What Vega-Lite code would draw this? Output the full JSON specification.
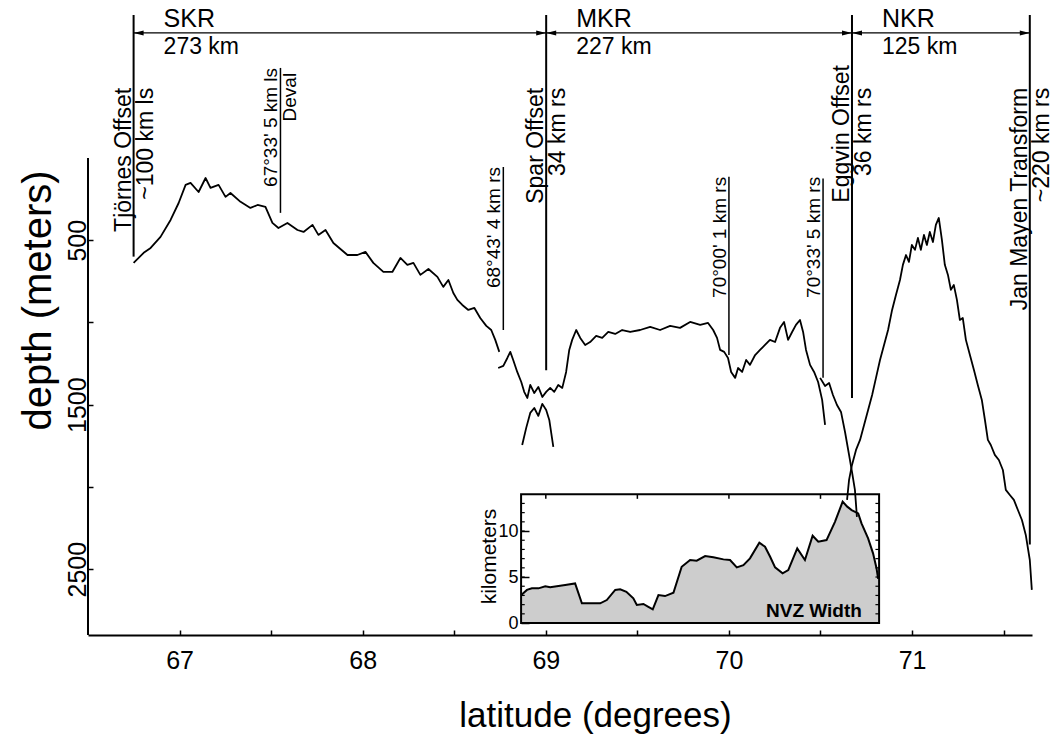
{
  "$schema": "https://vega.github.io/schema/vega-lite/v6.json",
  "width": 944,
  "height": 635,
  "autosize": {"type": "none"},
  "padding": {"left": 88, "top": 0, "right": 21, "bottom": 101},
  "background": "white",
  "config": {
    "font": "Liberation Sans",
    "view": {"stroke": null},
    "axis": {"domainColor": "black", "tickColor": "black", "labelColor": "black", "titleColor": "black", "titleFontWeight": "normal", "grid": false}
  },
  "datasets": {
    "profile": [
      {"seg":"s1","lat":66.749,"depth":638},{"seg":"s1","lat":66.804,"depth":577},{"seg":"s1","lat":66.842,"depth":547},{"seg":"s1","lat":66.896,"depth":480},{"seg":"s1","lat":66.951,"depth":377},{"seg":"s1","lat":66.995,"depth":274},{"seg":"s1","lat":67.033,"depth":164},{"seg":"s1","lat":67.06,"depth":152},{"seg":"s1","lat":67.104,"depth":207},{"seg":"s1","lat":67.142,"depth":122},{"seg":"s1","lat":67.169,"depth":182},{"seg":"s1","lat":67.213,"depth":164},{"seg":"s1","lat":67.251,"depth":237},{"seg":"s1","lat":67.278,"depth":213},{"seg":"s1","lat":67.333,"depth":267},{"seg":"s1","lat":67.387,"depth":304},{"seg":"s1","lat":67.426,"depth":286},{"seg":"s1","lat":67.469,"depth":298},{"seg":"s1","lat":67.507,"depth":395},{"seg":"s1","lat":67.54,"depth":426},{"seg":"s1","lat":67.589,"depth":395},{"seg":"s1","lat":67.644,"depth":438},{"seg":"s1","lat":67.677,"depth":450},{"seg":"s1","lat":67.726,"depth":407},{"seg":"s1","lat":67.758,"depth":468},{"seg":"s1","lat":67.797,"depth":438},{"seg":"s1","lat":67.84,"depth":517},{"seg":"s1","lat":67.917,"depth":590},{"seg":"s1","lat":67.971,"depth":590},{"seg":"s1","lat":68.015,"depth":571},{"seg":"s1","lat":68.058,"depth":638},{"seg":"s1","lat":68.113,"depth":693},{"seg":"s1","lat":68.162,"depth":693},{"seg":"s1","lat":68.206,"depth":608},{"seg":"s1","lat":68.244,"depth":650},{"seg":"s1","lat":68.277,"depth":638},{"seg":"s1","lat":68.315,"depth":711},{"seg":"s1","lat":68.359,"depth":675},{"seg":"s1","lat":68.408,"depth":723},{"seg":"s1","lat":68.44,"depth":784},{"seg":"s1","lat":68.468,"depth":742},{"seg":"s1","lat":68.495,"depth":821},{"seg":"s1","lat":68.517,"depth":863},{"seg":"s1","lat":68.544,"depth":894},{"seg":"s1","lat":68.577,"depth":924},{"seg":"s1","lat":68.61,"depth":912},{"seg":"s1","lat":68.642,"depth":973},{"seg":"s1","lat":68.675,"depth":1021},{"seg":"s1","lat":68.702,"depth":1046},{"seg":"s1","lat":68.724,"depth":1106},{"seg":"s1","lat":68.746,"depth":1179},
      {"seg":"s2","lat":68.74,"depth":1277},{"seg":"s2","lat":68.768,"depth":1264},{"seg":"s2","lat":68.79,"depth":1216},{"seg":"s2","lat":68.806,"depth":1179},{"seg":"s2","lat":68.822,"depth":1228},{"seg":"s2","lat":68.844,"depth":1301},{"seg":"s2","lat":68.866,"depth":1362},{"seg":"s2","lat":68.882,"depth":1422},{"seg":"s2","lat":68.899,"depth":1459},{"seg":"s2","lat":68.915,"depth":1380},{"seg":"s2","lat":68.937,"depth":1429},{"seg":"s2","lat":68.959,"depth":1392},{"seg":"s2","lat":68.981,"depth":1453},{"seg":"s2","lat":69.002,"depth":1422},{"seg":"s2","lat":69.024,"depth":1398},{"seg":"s2","lat":69.046,"depth":1422},{"seg":"s2","lat":69.068,"depth":1380},{"seg":"s2","lat":69.09,"depth":1398},{"seg":"s2","lat":69.111,"depth":1301},{"seg":"s2","lat":69.128,"depth":1167},{"seg":"s2","lat":69.144,"depth":1106},{"seg":"s2","lat":69.166,"depth":1046},{"seg":"s2","lat":69.188,"depth":1094},{"seg":"s2","lat":69.215,"depth":1137},{"seg":"s2","lat":69.242,"depth":1119},{"seg":"s2","lat":69.275,"depth":1082},{"seg":"s2","lat":69.308,"depth":1094},{"seg":"s2","lat":69.341,"depth":1058},{"seg":"s2","lat":69.379,"depth":1070},{"seg":"s2","lat":69.417,"depth":1046},{"seg":"s2","lat":69.461,"depth":1058},{"seg":"s2","lat":69.515,"depth":1046},{"seg":"s2","lat":69.57,"depth":1027},{"seg":"s2","lat":69.624,"depth":1046},{"seg":"s2","lat":69.679,"depth":1021},{"seg":"s2","lat":69.733,"depth":1033},{"seg":"s2","lat":69.788,"depth":997},{"seg":"s2","lat":69.843,"depth":1015},{"seg":"s2","lat":69.886,"depth":1003},{"seg":"s2","lat":69.914,"depth":1046},{"seg":"s2","lat":69.935,"depth":1094},{"seg":"s2","lat":69.952,"depth":1167},{"seg":"s2","lat":69.974,"depth":1179},{"seg":"s2","lat":69.995,"depth":1216},{"seg":"s2","lat":70.012,"depth":1301},{"seg":"s2","lat":70.034,"depth":1337},{"seg":"s2","lat":70.05,"depth":1277},{"seg":"s2","lat":70.072,"depth":1301},{"seg":"s2","lat":70.094,"depth":1228},{"seg":"s2","lat":70.115,"depth":1258},{"seg":"s2","lat":70.143,"depth":1198},{"seg":"s2","lat":70.17,"depth":1167},{"seg":"s2","lat":70.197,"depth":1137},{"seg":"s2","lat":70.224,"depth":1106},{"seg":"s2","lat":70.252,"depth":1119},{"seg":"s2","lat":70.279,"depth":1033},{"seg":"s2","lat":70.301,"depth":997},{"seg":"s2","lat":70.323,"depth":1106},{"seg":"s2","lat":70.345,"depth":1058},{"seg":"s2","lat":70.366,"depth":1015},{"seg":"s2","lat":70.388,"depth":985},{"seg":"s2","lat":70.405,"depth":1058},{"seg":"s2","lat":70.421,"depth":1167},{"seg":"s2","lat":70.443,"depth":1258},{"seg":"s2","lat":70.465,"depth":1301},{"seg":"s2","lat":70.487,"depth":1362},{"seg":"s2","lat":70.509,"depth":1471},{"seg":"s2","lat":70.525,"depth":1623},
      {"seg":"s3","lat":68.871,"depth":1745},{"seg":"s3","lat":68.893,"depth":1641},{"seg":"s3","lat":68.915,"depth":1550},{"seg":"s3","lat":68.937,"depth":1520},{"seg":"s3","lat":68.959,"depth":1568},{"seg":"s3","lat":68.981,"depth":1495},{"seg":"s3","lat":69.002,"depth":1532},{"seg":"s3","lat":69.019,"depth":1593},{"seg":"s3","lat":69.041,"depth":1757},
      {"seg":"s4","lat":70.498,"depth":1337},{"seg":"s4","lat":70.525,"depth":1386},{"seg":"s4","lat":70.547,"depth":1368},{"seg":"s4","lat":70.568,"depth":1441},{"seg":"s4","lat":70.59,"depth":1502},{"seg":"s4","lat":70.612,"depth":1544},{"seg":"s4","lat":70.634,"depth":1666},{"seg":"s4","lat":70.656,"depth":1805},{"seg":"s4","lat":70.672,"depth":1909},{"seg":"s4","lat":70.688,"depth":2018},{"seg":"s4","lat":70.699,"depth":2182},
      {"seg":"s5","lat":70.645,"depth":2079},{"seg":"s5","lat":70.656,"depth":1957},{"seg":"s5","lat":70.672,"depth":1866},{"seg":"s5","lat":70.694,"depth":1775},{"seg":"s5","lat":70.716,"depth":1714},{"seg":"s5","lat":70.738,"depth":1623},{"seg":"s5","lat":70.76,"depth":1532},{"seg":"s5","lat":70.782,"depth":1441},{"seg":"s5","lat":70.803,"depth":1337},{"seg":"s5","lat":70.825,"depth":1228},{"seg":"s5","lat":70.847,"depth":1137},{"seg":"s5","lat":70.869,"depth":1046},{"seg":"s5","lat":70.891,"depth":924},{"seg":"s5","lat":70.912,"depth":833},{"seg":"s5","lat":70.934,"depth":742},{"seg":"s5","lat":70.95,"depth":650},{"seg":"s5","lat":70.967,"depth":590},{"seg":"s5","lat":70.983,"depth":632},{"seg":"s5","lat":70.999,"depth":529},{"seg":"s5","lat":71.016,"depth":559},{"seg":"s5","lat":71.032,"depth":486},{"seg":"s5","lat":71.048,"depth":559},{"seg":"s5","lat":71.065,"depth":468},{"seg":"s5","lat":71.081,"depth":529},{"seg":"s5","lat":71.097,"depth":450},{"seg":"s5","lat":71.114,"depth":511},{"seg":"s5","lat":71.13,"depth":407},{"seg":"s5","lat":71.146,"depth":365},{"seg":"s5","lat":71.163,"depth":498},{"seg":"s5","lat":71.179,"depth":650},{"seg":"s5","lat":71.196,"depth":711},{"seg":"s5","lat":71.212,"depth":802},{"seg":"s5","lat":71.228,"depth":772},{"seg":"s5","lat":71.245,"depth":863},{"seg":"s5","lat":71.261,"depth":985},{"seg":"s5","lat":71.277,"depth":973},{"seg":"s5","lat":71.294,"depth":1106},{"seg":"s5","lat":71.316,"depth":1198},{"seg":"s5","lat":71.338,"depth":1289},{"seg":"s5","lat":71.359,"depth":1380},{"seg":"s5","lat":71.381,"depth":1471},{"seg":"s5","lat":71.398,"depth":1593},{"seg":"s5","lat":71.414,"depth":1714},{"seg":"s5","lat":71.43,"depth":1745},{"seg":"s5","lat":71.452,"depth":1805},{"seg":"s5","lat":71.474,"depth":1836},{"seg":"s5","lat":71.496,"depth":1897},{"seg":"s5","lat":71.512,"depth":2018},{"seg":"s5","lat":71.534,"depth":2049},{"seg":"s5","lat":71.556,"depth":2079},{"seg":"s5","lat":71.578,"depth":2140},{"seg":"s5","lat":71.6,"depth":2201},{"seg":"s5","lat":71.621,"depth":2292},{"seg":"s5","lat":71.643,"depth":2444},{"seg":"s5","lat":71.654,"depth":2626}
    ],
    "nvz": [
      {"lat":68.866,"km":3.04},{"lat":68.897,"km":3.6},{"lat":68.924,"km":3.77},{"lat":68.96,"km":3.77},{"lat":68.997,"km":4.0},{"lat":69.024,"km":3.88},{"lat":69.06,"km":4.0},{"lat":69.106,"km":4.13},{"lat":69.16,"km":4.3},{"lat":69.197,"km":2.14},{"lat":69.224,"km":2.14},{"lat":69.297,"km":2.14},{"lat":69.333,"km":2.5},{"lat":69.379,"km":3.6},{"lat":69.406,"km":3.66},{"lat":69.44,"km":3.4},{"lat":69.478,"km":2.68},{"lat":69.497,"km":1.96},{"lat":69.533,"km":2.07},{"lat":69.56,"km":1.77},{"lat":69.584,"km":1.49},{"lat":69.615,"km":3.04},{"lat":69.651,"km":2.93},{"lat":69.697,"km":3.3},{"lat":69.742,"km":6.12},{"lat":69.788,"km":6.85},{"lat":69.824,"km":6.78},{"lat":69.87,"km":7.28},{"lat":69.915,"km":7.14},{"lat":69.97,"km":6.92},{"lat":70.006,"km":6.85},{"lat":70.043,"km":6.05},{"lat":70.079,"km":6.3},{"lat":70.115,"km":7.03},{"lat":70.166,"km":8.73},{"lat":70.197,"km":8.29},{"lat":70.225,"km":7.21},{"lat":70.252,"km":6.05},{"lat":70.293,"km":5.4},{"lat":70.324,"km":5.76},{"lat":70.373,"km":8.12},{"lat":70.415,"km":6.85},{"lat":70.457,"km":9.49},{"lat":70.488,"km":8.84},{"lat":70.533,"km":9.02},{"lat":70.579,"km":11.0},{"lat":70.621,"km":13.19},{"lat":70.646,"km":12.65},{"lat":70.67,"km":12.28},{"lat":70.706,"km":11.92},{"lat":70.724,"km":10.84},{"lat":70.76,"km":9.2},{"lat":70.787,"km":7.57},{"lat":70.806,"km":5.95},{"lat":70.815,"km":4.8}
    ],
    "ridges": [
      {"name":"SKR","len":"273 km","start":66.749,"end":69.002},
      {"name":"MKR","len":"227 km","start":69.002,"end":70.672},
      {"name":"NKR","len":"125 km","start":70.672,"end":71.643}
    ],
    "lines": [
      {"lat":66.749,"top":-869,"bottom":600,"kind":"major"},
      {"lat":69.002,"top":-869,"bottom":1290,"kind":"major"},
      {"lat":70.672,"top":-869,"bottom":1460,"kind":"major"},
      {"lat":71.643,"top":-869,"bottom":2350,"kind":"major"},
      {"lat":67.551,"top":-547,"bottom":334,"kind":"minor"},
      {"lat":68.768,"top":55,"bottom":1046,"kind":"minor"},
      {"lat":70.0,"top":115,"bottom":1198,"kind":"minor"},
      {"lat":70.514,"top":125,"bottom":1337,"kind":"minor"}
    ],
    "labels": [
      {"lat":66.749,"text":"Tjörnes Offset","side":"left","top":-426,"kind":"major"},
      {"lat":66.749,"text":"~100 km ls","side":"right","top":-426,"kind":"major"},
      {"lat":69.002,"text":"Spar Offset","side":"left","top":-426,"kind":"major"},
      {"lat":69.002,"text":"34 km rs","side":"right","top":-426,"kind":"major"},
      {"lat":70.672,"text":"Eggvin Offset","side":"left","top":-565,"kind":"major"},
      {"lat":70.672,"text":"36 km rs","side":"right","top":-426,"kind":"major"},
      {"lat":71.643,"text":"Jan Mayen Transform","side":"left","top":-426,"kind":"major"},
      {"lat":71.643,"text":"~220 km rs","side":"right","top":-426,"kind":"major"},
      {"lat":67.551,"text":"67°33' 5 km ls","side":"left","top":-547,"kind":"minor"},
      {"lat":67.551,"text":"Deval","side":"right","top":-517,"kind":"minor"},
      {"lat":68.768,"text":"68°43' 4 km rs","side":"left","top":55,"kind":"minor"},
      {"lat":70.0,"text":"70°00' 1 km rs","side":"left","top":115,"kind":"minor"},
      {"lat":70.514,"text":"70°33' 5 km rs","side":"left","top":115,"kind":"minor"}
    ],
    "insetTicks": [{"lat":69},{"lat":69.5},{"lat":70},{"lat":70.5}],
    "kmTicks": [{"km":1},{"km":2},{"km":3},{"km":4},{"km":5},{"km":6},{"km":7},{"km":8},{"km":9},{"km":10},{"km":11},{"km":12},{"km":13}],
    "insetNote": [{"text":"NVZ Width","lat":70.726,"km":0.65}]
  },
  "resolve": {"scale": {"y": "independent"}, "axis": {"x": "independent", "y": "independent"}},
  "layer": [
    {
      "data": {"name": "nvz"},
      "mark": {"type": "area", "fill": "#cdcdcd"},
      "encoding": {
        "x": {"field": "lat", "type": "quantitative", "scale": {"domain": [66.5, 71.655], "nice": false, "zero": false}, "axis": null},
        "y": {"field": "km", "type": "quantitative", "scale": {"domain": [-1.3, 67.72], "nice": false, "zero": false},
              "axis": {"orient": "left", "offset": -433, "domain": false, "values": [0, 5, 10], "format": "d", "tickSize": -8, "tickWidth": 1.5,
                       "labelFontSize": 18, "labelPadding": 11, "labelAlign": "right", "labelBaseline": "middle",
                       "title": "kilometers", "titleFontSize": 21, "titleAngle": 270, "titleX": -26, "titleY": 556, "titleAlign": "center", "titleBaseline": "alphabetic"}},
        "y2": {"datum": 0}
      }
    },
    {
      "data": {"name": "nvz"},
      "mark": {"type": "line", "color": "black", "strokeWidth": 2},
      "encoding": {
        "x": {"field": "lat", "type": "quantitative", "scale": {"domain": [66.5, 71.655], "nice": false, "zero": false}, "axis": null},
        "y": {"field": "km", "type": "quantitative", "scale": {"domain": [-1.3, 67.72], "nice": false, "zero": false}, "axis": null}
      }
    },
    {
      "data": {"values": [{}]},
      "mark": {"type": "rect", "fillOpacity": 0, "stroke": "black", "strokeWidth": 2},
      "encoding": {
        "x": {"datum": 68.865, "type": "quantitative", "scale": {"domain": [66.5, 71.655], "nice": false, "zero": false}, "axis": null},
        "x2": {"datum": 70.82},
        "y": {"datum": 0, "type": "quantitative", "scale": {"domain": [-1.3, 67.72], "nice": false, "zero": false}, "axis": null},
        "y2": {"datum": 14}
      }
    },
    {
      "data": {"name": "insetTicks"},
      "mark": {"type": "rule", "color": "black", "strokeWidth": 1.5},
      "encoding": {
        "x": {"field": "lat", "type": "quantitative", "scale": {"domain": [66.5, 71.655], "nice": false, "zero": false}, "axis": null},
        "y": {"datum": 14, "type": "quantitative", "scale": {"domain": [-1.3, 67.72], "nice": false, "zero": false}, "axis": null},
        "y2": {"datum": 13.5}
      }
    },
    {
      "data": {"name": "kmTicks"},
      "mark": {"type": "rule", "color": "black", "strokeWidth": 1.2},
      "encoding": {
        "x": {"datum": 68.865, "type": "quantitative", "scale": {"domain": [66.5, 71.655], "nice": false, "zero": false}, "axis": null},
        "x2": {"datum": 68.885},
        "y": {"field": "km", "type": "quantitative", "scale": {"domain": [-1.3, 67.72], "nice": false, "zero": false}, "axis": null}
      }
    },
    {
      "data": {"name": "kmTicks"},
      "mark": {"type": "rule", "color": "black", "strokeWidth": 1.2},
      "encoding": {
        "x": {"datum": 70.8, "type": "quantitative", "scale": {"domain": [66.5, 71.655], "nice": false, "zero": false}, "axis": null},
        "x2": {"datum": 70.82},
        "y": {"field": "km", "type": "quantitative", "scale": {"domain": [-1.3, 67.72], "nice": false, "zero": false}, "axis": null}
      }
    },
    {
      "data": {"name": "insetNote"},
      "mark": {"type": "text", "align": "right", "baseline": "alphabetic", "fontSize": 19, "fontWeight": "bold", "color": "black"},
      "encoding": {
        "x": {"field": "lat", "type": "quantitative", "scale": {"domain": [66.5, 71.655], "nice": false, "zero": false}, "axis": null},
        "y": {"field": "km", "type": "quantitative", "scale": {"domain": [-1.3, 67.72], "nice": false, "zero": false}, "axis": null},
        "text": {"field": "text"}
      }
    },
    {
      "data": {"values": [{}]},
      "mark": {"type": "rule", "color": "black", "strokeWidth": 2},
      "encoding": {
        "x": {"datum": 66.5, "type": "quantitative", "scale": {"domain": [66.5, 71.655], "nice": false, "zero": false}, "axis": null},
        "y": {"datum": 0, "type": "quantitative", "scale": {"domain": [-960, 2900], "reverse": true, "nice": false, "zero": false}, "axis": null},
        "y2": {"datum": 2900}
      }
    },
    {
      "data": {"name": "lines"},
      "mark": {"type": "rule", "color": "black"},
      "encoding": {
        "x": {"field": "lat", "type": "quantitative", "scale": {"domain": [66.5, 71.655], "nice": false, "zero": false}, "axis": null},
        "y": {"field": "top", "type": "quantitative", "scale": {"domain": [-960, 2900], "reverse": true, "nice": false, "zero": false}, "axis": null},
        "y2": {"field": "bottom"},
        "strokeWidth": {"field": "kind", "type": "nominal", "scale": {"domain": ["major", "minor"], "range": [2, 1.5]}, "legend": null}
      }
    },
    {
      "data": {"name": "ridges"},
      "mark": {"type": "rule", "color": "black", "strokeWidth": 1.3},
      "encoding": {
        "x": {"field": "start", "type": "quantitative", "scale": {"domain": [66.5, 71.655], "nice": false, "zero": false}, "axis": null},
        "x2": {"field": "end"},
        "y": {"datum": -760, "type": "quantitative", "scale": {"domain": [-960, 2900], "reverse": true, "nice": false, "zero": false}, "axis": null}
      }
    },
    {
      "data": {"name": "ridges"},
      "mark": {"type": "point", "filled": true, "color": "black", "opacity": 1, "size": 100, "shape": "M0,0L2,-0.5L2,0.5Z", "strokeWidth": 0},
      "encoding": {
        "x": {"field": "start", "type": "quantitative", "scale": {"domain": [66.5, 71.655], "nice": false, "zero": false}, "axis": null},
        "y": {"datum": -760, "type": "quantitative", "scale": {"domain": [-960, 2900], "reverse": true, "nice": false, "zero": false}, "axis": null}
      }
    },
    {
      "data": {"name": "ridges"},
      "mark": {"type": "point", "filled": true, "color": "black", "opacity": 1, "size": 100, "shape": "M0,0L-2,-0.5L-2,0.5Z", "strokeWidth": 0},
      "encoding": {
        "x": {"field": "end", "type": "quantitative", "scale": {"domain": [66.5, 71.655], "nice": false, "zero": false}, "axis": null},
        "y": {"datum": -760, "type": "quantitative", "scale": {"domain": [-960, 2900], "reverse": true, "nice": false, "zero": false}, "axis": null}
      }
    },
    {
      "data": {"name": "ridges"},
      "mark": {"type": "text", "align": "left", "baseline": "alphabetic", "dx": 30, "fontSize": 25, "color": "black"},
      "encoding": {
        "x": {"field": "start", "type": "quantitative", "scale": {"domain": [66.5, 71.655], "nice": false, "zero": false}, "axis": null},
        "y": {"datum": -795, "type": "quantitative", "scale": {"domain": [-960, 2900], "reverse": true, "nice": false, "zero": false}, "axis": null},
        "text": {"field": "name"}
      }
    },
    {
      "data": {"name": "ridges"},
      "mark": {"type": "text", "align": "left", "baseline": "alphabetic", "dx": 30, "fontSize": 23, "color": "black"},
      "encoding": {
        "x": {"field": "start", "type": "quantitative", "scale": {"domain": [66.5, 71.655], "nice": false, "zero": false}, "axis": null},
        "y": {"datum": -630, "type": "quantitative", "scale": {"domain": [-960, 2900], "reverse": true, "nice": false, "zero": false}, "axis": null},
        "text": {"field": "len"}
      }
    },
    {
      "data": {"name": "labels"},
      "transform": [{"filter": "datum.side == 'left'"}],
      "mark": {"type": "text", "angle": 270, "align": "right", "baseline": "alphabetic", "dy": -3, "color": "black"},
      "encoding": {
        "x": {"field": "lat", "type": "quantitative", "scale": {"domain": [66.5, 71.655], "nice": false, "zero": false}, "axis": null},
        "y": {"field": "top", "type": "quantitative", "scale": {"domain": [-960, 2900], "reverse": true, "nice": false, "zero": false}, "axis": null},
        "text": {"field": "text"},
        "size": {"field": "kind", "type": "nominal", "scale": {"domain": ["major", "minor"], "range": [23, 19]}, "legend": null}
      }
    },
    {
      "data": {"name": "labels"},
      "transform": [{"filter": "datum.side == 'right'"}],
      "mark": {"type": "text", "angle": 270, "align": "right", "baseline": "top", "dy": 1, "color": "black"},
      "encoding": {
        "x": {"field": "lat", "type": "quantitative", "scale": {"domain": [66.5, 71.655], "nice": false, "zero": false}, "axis": null},
        "y": {"field": "top", "type": "quantitative", "scale": {"domain": [-960, 2900], "reverse": true, "nice": false, "zero": false}, "axis": null},
        "text": {"field": "text"},
        "size": {"field": "kind", "type": "nominal", "scale": {"domain": ["major", "minor"], "range": [22, 19]}, "legend": null}
      }
    },
    {
      "data": {"name": "profile"},
      "mark": {"type": "line", "color": "black", "strokeWidth": 1.8, "strokeJoin": "round"},
      "encoding": {
        "x": {"field": "lat", "type": "quantitative", "scale": {"domain": [66.5, 71.655], "nice": false, "zero": false},
              "axis": {"orient": "bottom", "values": [67, 67.5, 68, 68.5, 69, 69.5, 70, 70.5, 71, 71.5], "format": ".0f",
                       "labelExpr": "datum.value % 1 == 0 ? datum.label : ''", "tickSize": -5, "tickWidth": 1.5, "domainWidth": 2,
                       "labelFontSize": 25, "labelPadding": 18, "labelBaseline": "top", "labelFlush": false, "labelOverlap": false,
                       "title": "latitude (degrees)", "titleFontSize": 35, "titleX": 507, "titleY": 91, "titleAlign": "center", "titleBaseline": "alphabetic"}},
        "y": {"field": "depth", "type": "quantitative", "scale": {"domain": [-960, 2900], "reverse": true, "nice": false, "zero": false},
              "axis": {"orient": "left", "domain": false, "values": [500, 1000, 1500, 2000, 2500], "format": "d",
                       "labelExpr": "datum.value % 1000 == 500 ? datum.label : ''", "tickSize": -5, "tickWidth": 1.5,
                       "labelAngle": 270, "labelAlign": "center", "labelBaseline": "alphabetic", "labelFontSize": 25, "labelPadding": 8, "labelOverlap": false,
                       "title": "depth (meters)", "titleFontSize": 40, "titleAngle": 270, "titleX": -38, "titleY": 300, "titleAlign": "center", "titleBaseline": "alphabetic"}},
        "detail": {"field": "seg", "type": "nominal"}
      }
    }
  ]
}
